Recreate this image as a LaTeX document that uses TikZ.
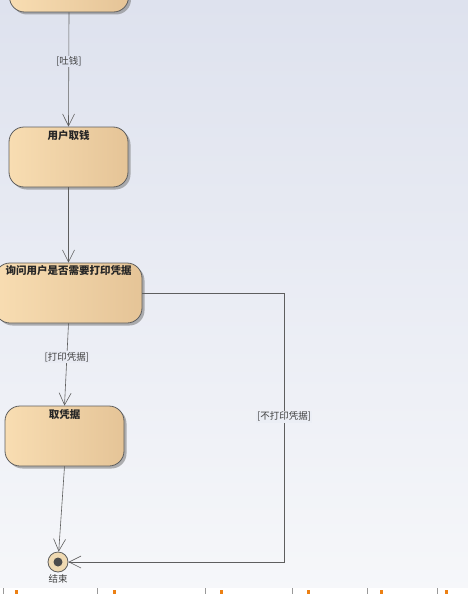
\documentclass[tikz,border=0pt]{standalone}
\usepackage{fontspec}
\setmainfont{Noto Sans CJK SC}
\usetikzlibrary{arrows.meta,shadows}

\definecolor{bgTop}{HTML}{DEE2EE}
\definecolor{bgBot}{HTML}{F6F7FA}
\definecolor{boxL}{HTML}{F8DDB2}
\definecolor{boxM}{HTML}{F9E3BF}
\definecolor{boxR}{HTML}{E5C497}
\definecolor{edgeC}{HTML}{5E5E5E}
\definecolor{endFill}{HTML}{F0DAB2}

\begin{document}
\begin{tikzpicture}[x=1pt,y=-1pt,
  action/.style={rectangle, rounded corners=15pt, draw=edgeC, line width=0.8pt,
    minimum width=119pt, minimum height=60pt,
    left color=boxL, middle color=boxM, right color=boxR,
    drop shadow={shadow xshift=2.5pt, shadow yshift=-2.5pt, fill=black!50, opacity=.6}},
  title/.style={font=\fontsize{10.5}{12}\selectfont\bfseries, text=black!85, inner sep=0pt},
  guard/.style={font=\fontsize{9.5}{11}\selectfont, text=black!75, inner sep=1pt},
  flow/.style={draw=edgeC, line width=0.6pt, -{Straight Barb[length=12pt,width=12pt]}},
  final/.style={circle, draw=edgeC, line width=0.8pt, minimum size=20pt, inner sep=0pt,
    fill=endFill, path picture={\fill[black!70] (path picture bounding box.center) circle (4.5pt);}}]

  % background
  \useasboundingbox (0,0) rectangle (468,594);
  \shade[top color=bgTop, bottom color=bgBot] (0,0) rectangle (468,594);

  % actions
  \node[action] (give) at (69,-18) {};
  \node[action] (take) at (68.5,157) {};
  \node[action, minimum width=147pt] (ask) at (68.5,293) {};
  \node[action] (slip) at (64.5,436) {};
  \node[final] (done) at (58,562) {};

  \node[title, anchor=north, yshift=-3.5pt] (takeT) at (take.north) {用户取钱};
  \node[title, anchor=north, yshift=-3pt] (askT) at (ask.north) {询问用户是否需要打印凭据};
  \node[title, anchor=north, yshift=-3.5pt] (slipT) at (slip.north) {取凭据};
  \node[guard, anchor=north, yshift=-0.5pt] (doneT) at (done.south) {结束};

  % flows
  \coordinate (bend) at (284,293);
  \draw[flow] (give.south) -- node[guard, pos=.43, fill=bgTop!95!bgBot] (gMoney) {[吐钱]} (take.north);
  \draw[flow] (take.south) -- (ask.north);
  \draw[flow] (ask.south) -- node[guard, pos=.41, fill=bgTop!55!bgBot] (gPrint) {[打印凭据]} (slip.north);
  \draw[flow] (slip.south) -- (done);
  \draw[flow] (ask.east) -- (bend) |- node[guard, pos=.23, fill=bgTop!45!bgBot] (gNoPrint) {[不打印凭据]} (done);

  % tab strip
  \fill[white] (0,588) rectangle (468,594);
  \foreach \sx in {3,97,205,292,367,437}
    \draw[black!40, line width=0.5pt] (\sx,588) -- (\sx,594);
  \foreach \ix in {15,113,220,307,380,445}
    \fill[orange!70!brown] (\ix,590) rectangle ++(3,4);
\end{tikzpicture}
\end{document}
